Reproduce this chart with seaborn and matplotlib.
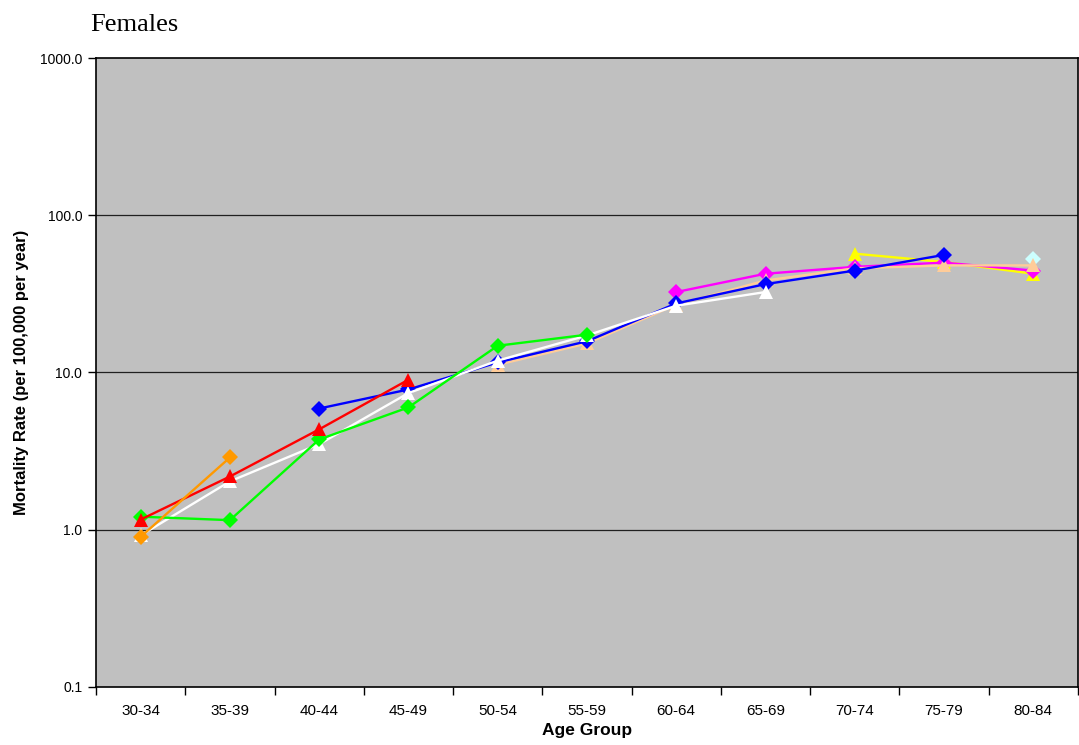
import numpy as np
import pandas as pd
import seaborn as sns
import matplotlib.pyplot as plt
from matplotlib.ticker import FixedLocator, FuncFormatter, NullLocator

age_groups = ["30-34", "35-39", "40-44", "45-49", "50-54", "55-59",
              "60-64", "65-69", "70-74", "75-79", "80-84"]

# one list per cohort, None where the cohort has no value
cyan = [None] * 10 + [53.0]
peach = [None] * 4 + [11.2, 15.3, 27.0, 38.5, 46.0, 48.0, 48.0]
yellow = [None] * 8 + [57.0, 50.5, 42.5]
magenta = [None] * 6 + [32.5, 42.5, 47.0, 50.0, 44.5]
blue = [None, None, 5.9, 7.8, 11.6, 15.8, 27.5, 36.5, 44.5, 56.0, None]
white = [0.92, 2.03, 3.5, 7.4, 11.9, 17.2, 26.6, 32.5, None, None, None]
green = [1.21, 1.15, 3.75, 6.0, 14.8, 17.4, None, None, None, None, None]
red = [1.16, 2.18, 4.35, 9.0, None, None, None, None, None, None, None]
orange = [0.9, 2.88, None, None, None, None, None, None, None, None, None]

series = {"cyan": cyan, "yellow": yellow, "magenta": magenta, "peach": peach,
          "blue": blue, "white": white, "green": green, "red": red,
          "orange": orange}
colors = {"cyan": "#CCFFFF", "peach": "#FFCC99", "yellow": "#FFFF00",
          "magenta": "#FF00FF", "blue": "#0000FF", "white": "#FFFFFF",
          "green": "#00FF00", "red": "#FF0000", "orange": "#FF9900"}
markers = {"cyan": "D", "peach": "^", "yellow": "^", "magenta": "D",
           "blue": "D", "white": "^", "green": "D", "red": "^",
           "orange": "D"}

rows = []
for name, vals in series.items():
    for i, v in enumerate(vals):
        if v is not None:
            rows.append({"cohort": name, "pos": i, "rate": v})
df = pd.DataFrame(rows)

fig = plt.figure(figsize=(10.79, 7.45), dpi=100)
ax = fig.add_axes([0.089, 0.078, 0.910, 0.844])
ax.set_facecolor("#C0C0C0")

for y in [1, 10, 100]:
    ax.axhline(y, color="#202020", lw=0.9, zorder=1)

for name in series:
    sub = df[df["cohort"] == name]
    sns.lineplot(data=sub, x="pos", y="rate", color=colors[name],
                 marker=markers[name], markersize=10.5 if markers[name] == "^" else 8.5,
                 markeredgewidth=0, lw=1.7, estimator=None, sort=True,
                 ax=ax, zorder=3)

ax.set_yscale("log")
ax.set_ylim(0.1, 1000)
ax.yaxis.set_major_locator(FixedLocator([0.1, 1, 10, 100, 1000]))
ax.yaxis.set_minor_locator(NullLocator())
ax.yaxis.set_major_formatter(FuncFormatter(lambda v, p: f"{v:.1f}"))

ax.set_xlim(-0.5, len(age_groups) - 0.5)
ax.set_xticks(np.arange(len(age_groups)))
ax.set_xticklabels(age_groups)
ax.set_xticks(np.arange(len(age_groups) + 1) - 0.5, minor=True)
ax.tick_params(axis="x", which="major", length=0, pad=12, labelsize=11)
ax.tick_params(axis="x", which="minor", length=6, width=1, direction="out")
ax.tick_params(axis="y", which="major", length=6, width=1, direction="out",
               labelsize=10, pad=4)
for lab in ax.get_xticklabels() + ax.get_yticklabels():
    lab.set_fontfamily("Liberation Sans")

for s in ax.spines.values():
    s.set_color("black")
    s.set_linewidth(1.2)

ax.set_xlabel("Age Group", fontsize=12.5, fontweight="bold",
              fontfamily="Liberation Sans", labelpad=4)
ax.set_ylabel("Mortality Rate (per 100,000 per year)", fontsize=12,
              fontweight="bold", fontfamily="Liberation Sans", labelpad=8)

fig.text(0.0834, 0.958, "Females", fontsize=19, fontfamily="Liberation Serif",
         ha="left", va="baseline")

plt.savefig("out.png", dpi=100)
